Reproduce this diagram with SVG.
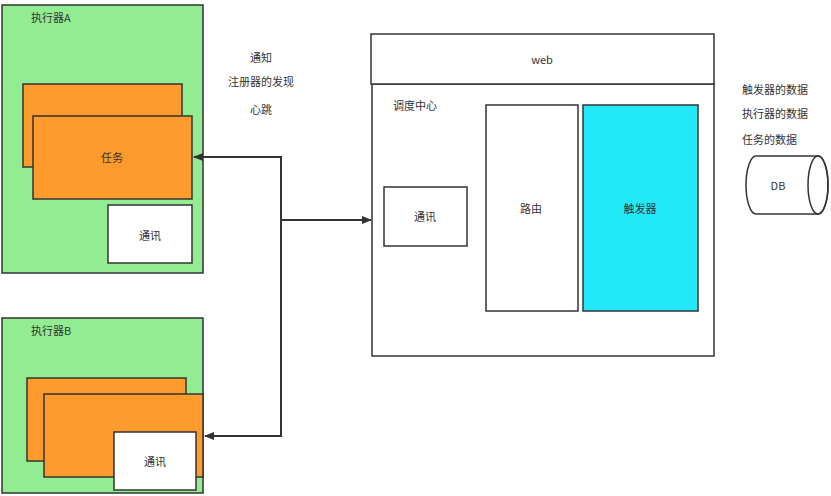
<svg xmlns="http://www.w3.org/2000/svg" width="831" height="496" viewBox="0 0 831 496">
<style>
text{font-family:"Noto Sans CJK SC","Liberation Sans",sans-serif;font-size:11px;fill:#333}
.c{text-anchor:middle;dominant-baseline:central}
.box{stroke:#333;stroke-width:1.5}
.exec{fill:#92ec92}
.task{fill:#ff9a2c}
.white{fill:#fff}
.cyan{fill:#22e9f9}
.conn{fill:none;stroke:#333;stroke-width:2}
</style>
<defs>
<marker id="ah" viewBox="0 0 10 10" refX="9" refY="5" markerWidth="5" markerHeight="5" orient="auto-start-reverse" markerUnits="strokeWidth">
<path d="M0,1 L10,5 L0,9 Z" fill="#333"/>
</marker>
</defs>
<rect width="831" height="496" fill="#fff"/>
<g id="executorA">
<rect class="box exec" x="2" y="5" width="201" height="268"/>
<text x="31" y="17" dominant-baseline="central">执行器A</text>
<rect class="box task" x="23" y="84" width="159" height="83"/>
<rect class="box task" x="33" y="116" width="159" height="83"/>
<text class="c" x="112" y="157">任务</text>
<rect class="box white" x="108" y="205" width="84" height="58"/>
<text class="c" x="150" y="235">通讯</text>
</g>
<g id="executorB">
<rect class="box exec" x="2" y="318" width="201" height="175"/>
<text x="31" y="330" dominant-baseline="central">执行器B</text>
<rect class="box task" x="27" y="378" width="159" height="83"/>
<rect class="box task" x="44" y="394" width="159" height="83"/>
<rect class="box white" x="114" y="432" width="82" height="58"/>
<text class="c" x="155" y="461">通讯</text>
</g>
<g id="notes">
<text class="c" x="261" y="57">通知</text>
<text class="c" x="261" y="81">注册器的发现</text>
<text class="c" x="261" y="109">心跳</text>
</g>
<g id="scheduler">
<rect class="box white" x="372" y="84" width="342" height="272"/>
<rect class="box white" x="371" y="34" width="343" height="50"/>
<text class="c" x="542" y="59">web</text>
<text x="393" y="105" dominant-baseline="central">调度中心</text>
<rect class="box white" x="384" y="187" width="83" height="59"/>
<text class="c" x="425" y="216">通讯</text>
<rect class="box white" x="486" y="105" width="92" height="206"/>
<text class="c" x="531" y="208">路由</text>
<rect class="box cyan" x="583" y="105" width="115" height="206"/>
<text class="c" x="640" y="208">触发器</text>
</g>
<g id="dbnotes">
<text x="742" y="89" dominant-baseline="central">触发器的数据</text>
<text x="742" y="113" dominant-baseline="central">执行器的数据</text>
<text x="742" y="139" dominant-baseline="central">任务的数据</text>
</g>
<g id="db">
<path class="box white" d="M818,156 L756,156 A10,29 0 0 0 756,214 L818,214 A10,29 0 0 0 818,156 Z"/>
<ellipse class="box" fill="none" cx="818" cy="185" rx="10" ry="29"/>
<text class="c" x="778" y="185">DB</text>
</g>
<g id="connectors">
<path class="conn" d="M281,220 L281,157 L194,157" marker-end="url(#ah)"/>
<path class="conn" d="M281,220 L281,436 L205,436" marker-end="url(#ah)"/>
<path class="conn" d="M281,220 L371,220" marker-end="url(#ah)"/>
</g>
</svg>
